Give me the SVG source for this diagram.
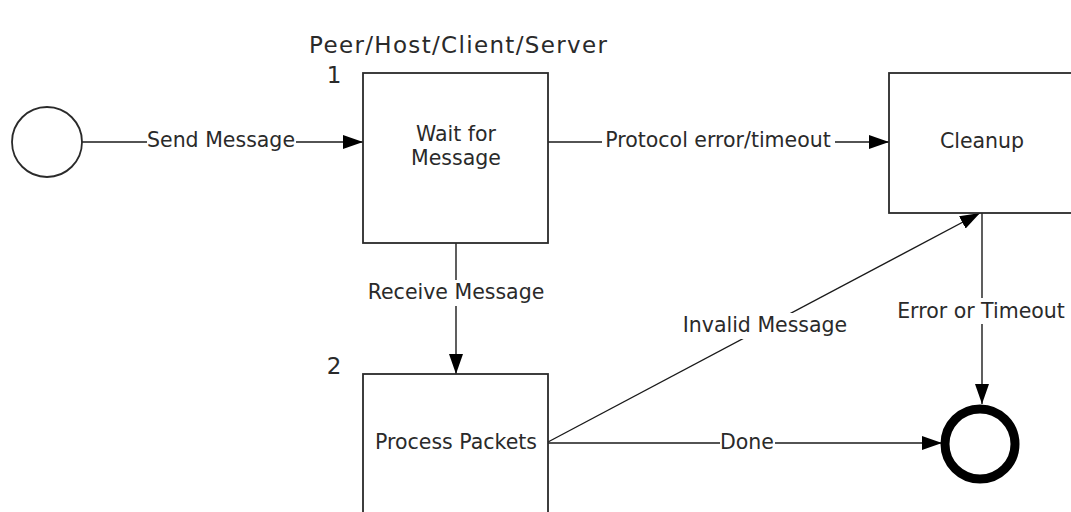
<svg xmlns="http://www.w3.org/2000/svg" width="1071" height="512" viewBox="0 0 1071 512">
  <style>
    .box { fill: #ffffff; stroke: #2a2a2a; stroke-width: 1.8; }
    .edge { fill: none; stroke: #1a1a1a; stroke-width: 1.4; }
    .lbl { font-family: "DejaVu Sans", Verdana, sans-serif; font-size: 20.5px; fill: #2a2a2a; }
    .big { font-family: "DejaVu Sans", Verdana, sans-serif; font-size: 23px; fill: #2a2a2a; }
    .bg { fill: #ffffff; }
  </style>
  <defs>
    <marker id="arrow" viewBox="0 0 20 14" refX="20" refY="7" markerWidth="20" markerHeight="14" markerUnits="userSpaceOnUse" orient="auto">
      <path d="M0,0 L20,7 L0,14 Z" fill="#000000"/>
    </marker>
  </defs>
  <rect width="1071" height="512" fill="#ffffff"/>

  <!-- swimlane title -->
  <text class="big" x="309" y="53" font-size="24" textLength="298" lengthAdjust="spacing">Peer/Host/Client/Server</text>

  <g id="connectors">
    <g id="e-send">
      <line class="edge" x1="81" y1="142" x2="363" y2="142" marker-end="url(#arrow)"/>
      <rect class="bg" x="147" y="128" width="149" height="26"/>
      <text class="lbl" x="221" y="147" text-anchor="middle">Send Message</text>
    </g>
    <g id="e-protocol">
      <line class="edge" x1="548" y1="142" x2="889" y2="142" marker-end="url(#arrow)"/>
      <rect class="bg" x="602" y="128" width="233" height="26"/>
      <text class="lbl" x="718" y="147" text-anchor="middle">Protocol error/timeout</text>
    </g>
    <g id="e-receive">
      <line class="edge" x1="456" y1="243" x2="456" y2="374" marker-end="url(#arrow)"/>
      <rect class="bg" x="367" y="280" width="178" height="26"/>
      <text class="lbl" x="456" y="299" text-anchor="middle">Receive Message</text>
    </g>
    <g id="e-invalid">
      <line class="edge" x1="548" y1="442" x2="980" y2="213" marker-end="url(#arrow)"/>
      <rect class="bg" x="681" y="313" width="168" height="26"/>
      <text class="lbl" x="765" y="332" text-anchor="middle">Invalid Message</text>
    </g>
    <g id="e-error">
      <line class="edge" x1="982" y1="213" x2="982" y2="404" marker-end="url(#arrow)"/>
      <rect class="bg" x="894" y="298" width="174" height="26"/>
      <text class="lbl" x="981" y="318" text-anchor="middle">Error or Timeout</text>
    </g>
    <g id="e-done">
      <line class="edge" x1="548" y1="443" x2="942" y2="443" marker-end="url(#arrow)"/>
      <rect class="bg" x="720" y="430" width="55" height="26"/>
      <text class="lbl" x="747" y="449" text-anchor="middle">Done</text>
    </g>
  </g>

  <g id="start">
    <circle cx="47" cy="142" r="35" fill="#ffffff" stroke="#2a2a2a" stroke-width="1.8"/>
  </g>

  <g id="wait">
    <rect class="box" x="363" y="73" width="185" height="170"/>
    <text class="big" x="334" y="83" text-anchor="middle">1</text>
    <text class="lbl" x="456" y="141" text-anchor="middle">Wait for</text>
    <text class="lbl" x="456" y="165" text-anchor="middle">Message</text>
  </g>

  <g id="cleanup">
    <rect class="box" x="889" y="73" width="200" height="140"/>
    <text class="lbl" x="982" y="148" text-anchor="middle">Cleanup</text>
  </g>

  <g id="process">
    <rect class="box" x="363" y="374" width="185" height="160"/>
    <text class="big" x="334" y="374" text-anchor="middle">2</text>
    <text class="lbl" x="456" y="449" text-anchor="middle">Process Packets</text>
  </g>

  <g id="end">
    <circle cx="980" cy="444" r="35" fill="#ffffff" stroke="#000000" stroke-width="9"/>
  </g>
</svg>
